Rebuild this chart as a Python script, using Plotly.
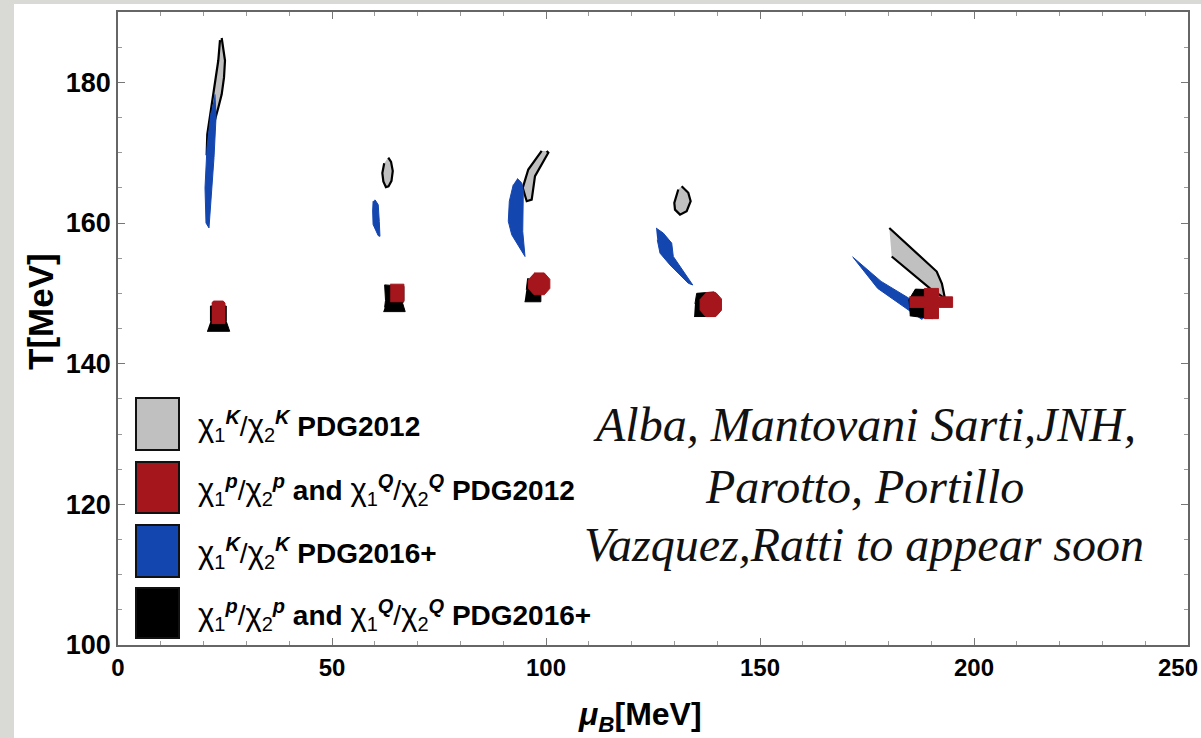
import plotly.graph_objects as go

# ---------------- data (mu_B [MeV], T [MeV]) ----------------
# chi1^K/chi2^K PDG2012 (gray contours), one list per collision energy
gray_mu = [
    [24.23, 24.60, 25.00, 24.77, 24.23, 23.43, 22.27, 21.50, 21.10, 20.72, 20.86, 21.89, 22.66, 23.43, 23.83],
    [63.15, 63.8, 64.2, 63.9, 63.2, 62.6, 62.0, 61.76, 62.2],
    [100.16, 100.54, 97.43, 96.66, 95.49, 94.56, 95.86, 98.99],
    [131.7, 133.25, 133.8, 132.87, 131.31, 130.14, 129.98, 130.91],
    [180.21, 191.29, 192.5, 193.2, 189.7, 180.77],
]
gray_T = [
    [186.3, 184.5, 183.1, 180.7, 178.3, 176.4, 174.0, 172.1, 169.8, 169.8, 172.6, 176.9, 180.2, 183.1, 186.0],
    [169.3, 168.7, 167.4, 166.0, 165.2, 165.1, 165.9, 167.1, 168.5],
    [170.24, 170.0, 166.67, 163.33, 163.1, 165.0, 167.6, 170.24],
    [165.24, 164.29, 163.1, 161.67, 161.19, 161.9, 162.86, 164.76],
    [159.29, 153.1, 151.4, 149.29, 150.71, 155.24],
]

# chi1^K/chi2^K PDG2016+ (blue contours)
blue_mu = [
    [22.66, 22.9, 22.43, 21.73, 21.26, 20.56, 20.33, 20.79, 21.73],
    [60.05, 60.8, 61.05, 61.2, 60.8, 59.6, 59.5, 59.6],
    [93.29, 94.32, 94.70, 94.56, 94.56, 95.09, 93.93, 91.99, 91.19, 91.43, 92.36],
    [125.7, 127.4, 129.37, 129.74, 134.28, 133.25, 128.97, 126.64, 126.0],
    [171.6, 178.3, 184.8, 188.4, 187.8, 182.3, 177.5, 171.9],
]
blue_T = [
    [178.3, 175.0, 169.3, 163.6, 159.3, 160.0, 165.0, 170.7, 175.7],
    [163.3, 162.6, 160.2, 158.1, 158.2, 159.8, 161.7, 163.1],
    [166.33, 165.71, 164.53, 161.67, 158.81, 155.24, 156.43, 158.33, 160.24, 163.1, 165.47],
    [159.29, 158.57, 157.14, 155.24, 151.19, 151.43, 154.04, 155.71, 157.61],
    [155.2, 151.7, 149.3, 146.6, 146.3, 148.6, 150.7, 155.0],
]

# chi1^p/chi2^p and chi1^Q/chi2^Q PDG2016+ (black contours)
black_mu = [
    [20.8, 26.1, 25.3, 25.3, 21.6, 21.6],
    [62.0, 67.1, 66.5, 66.8, 66.8, 62.3, 62.5, 62.3],
    [95.0, 98.8, 98.8, 95.7, 95.4],
    [134.6, 139.3, 139.3, 135.2, 134.8],
    [185.0, 190.3, 190.5, 186.3, 184.7],
]
black_T = [
    [144.6, 144.6, 146.0, 148.2, 148.2, 146.0],
    [147.4, 147.4, 148.6, 149.0, 151.0, 151.2, 149.0, 148.0],
    [148.8, 148.8, 151.5, 152.1, 150.5],
    [146.7, 146.7, 150.2, 150.0, 148.5],
    [146.8, 146.4, 150.5, 150.6, 149.0],
]

# chi1^p/chi2^p and chi1^Q/chi2^Q PDG2012 (red contours)
red_mu = [
    [21.9, 25.0, 25.0, 24.6, 22.3, 21.9],
    [63.6, 66.8, 66.8, 63.6],
    [97.2, 99.6, 100.9, 100.9, 99.6, 97.2, 95.9, 95.9],
    [137.3, 139.7, 141.0, 141.0, 139.7, 137.3, 136.0, 136.0],
    [184.9, 188.4, 188.4, 191.7, 191.7, 195.0, 195.0, 191.7, 191.7, 188.4, 188.4, 184.9],
]
red_T = [
    [145.7, 145.7, 148.6, 148.9, 148.9, 148.6],
    [148.8, 148.8, 151.3, 151.3],
    [152.9, 152.9, 152.0, 150.7, 149.8, 149.8, 150.7, 152.0],
    [150.1, 150.1, 149.2, 147.6, 146.7, 146.7, 147.6, 149.2],
    [148.0, 148.0, 146.4, 146.4, 148.0, 148.0, 149.5, 149.5, 150.7, 150.7, 149.5, 149.5],
]

legend_ratio = [["K"], ["p", "Q"], ["K"], ["p", "Q"]]
legend_sets = ["PDG2012", "PDG2012", "PDG2016+", "PDG2016+"]
credit_lines = ["Alba, Mantovani Sarti,JNH,", "Parotto, Portillo", "Vazquez,Ratti to appear soon"]

x_ticks = [0, 50, 100, 150, 200, 250]
x_ticklabels = ["0", "50", "100", "150", "200", "250"]
y_ticks = [100, 120, 140, 160, 180]

# ---------------- styling ----------------
GRAY = "#c0c0c0"
RED = "#a5161c"
BLUE = "#1446b0"
BLACK = "#000000"

W, H = 1201, 738
L, R, T_, B = 118, 1188, 12, 645   # plot area in pixels
XTICK_FONT = dict(family="Liberation Sans, Arial", size=24, color="black", weight="bold")


def px_x(p):
    return (p - L) / (R - L)


def px_y(p):
    return (B - p) / (B - T_)


def joined(lists):
    out = []
    for i, seg in enumerate(lists):
        if i:
            out.append(None)
        out.extend(seg)
    return out


def chi_ratio(q):
    chi = '<span style="font-size:31px">χ</span>'
    s = '<span style="font-size:20px">%s</span>'
    return (chi + "<sub>" + s % "1" + "</sub><sup>" + s % ("<b><i>" + q + "</i></b>") + "</sup>"
            + '<span style="font-size:28px">/</span>'
            + chi + "<sub>" + s % "2" + "</sub><sup>" + s % ("<b><i>" + q + "</i></b>") + "</sup>")


def legend_text(qs, dataset):
    parts = [chi_ratio(q) for q in qs]
    return " <b>and</b> ".join(parts) + " <b>" + dataset + "</b>"


fig = go.Figure()
for mus, ts, fillc, linec, lw in [
    (gray_mu, gray_T, GRAY, BLACK, 2.2),
    (blue_mu, blue_T, BLUE, BLUE, 1),
    (black_mu, black_T, BLACK, BLACK, 1),
    (red_mu, red_T, RED, RED, 1),
]:
    fig.add_trace(go.Scatter(
        x=joined(mus), y=joined(ts), mode="lines", fill="toself",
        fillcolor=fillc, line=dict(color=linec, width=lw),
        showlegend=False, hoverinfo="skip"))

shapes = []
# slide background strips (left and top)
shapes.append(dict(type="rect", xref="paper", yref="paper",
                   x0=px_x(0), x1=px_x(14), y0=px_y(H), y1=px_y(0),
                   fillcolor="#d9d9d5", line=dict(width=0), layer="below"))
shapes.append(dict(type="rect", xref="paper", yref="paper",
                   x0=px_x(0), x1=px_x(W), y0=px_y(4), y1=px_y(0),
                   fillcolor="#d9d9d5", line=dict(width=0), layer="below"))

annotations = []
box_rows = [(398, 450, GRAY), (462, 513, RED), (525, 577, BLUE), (588, 638, BLACK)]
for (y0, y1, c), qs, ds in zip(box_rows, legend_ratio, legend_sets):
    shapes.append(dict(type="rect", xref="paper", yref="paper",
                       x0=px_x(136), x1=px_x(179), y0=px_y(y1), y1=px_y(y0),
                       fillcolor=c, line=dict(color="#111111", width=2)))
    annotations.append(dict(xref="paper", yref="paper", x=px_x(196), y=px_y((y0 + y1) / 2 + 2),
                            xanchor="left", yanchor="middle", showarrow=False, text=legend_text(qs, ds),
                            font=dict(family="Liberation Sans, Arial", size=28, color="black")))

for yc, line in zip([424, 486, 544], credit_lines):
    annotations.append(dict(xref="paper", yref="paper", x=px_x(864), y=px_y(yc),
                            xanchor="center", yanchor="middle", showarrow=False,
                            text="<i>" + line + "</i>",
                            font=dict(family="Liberation Serif, Times New Roman", size=48, color="#111111")))

# last x tick label, pulled inside the figure edge (as in the original)
annotations.append(dict(xref="x", yref="paper", x=x_ticks[-1], y=px_y(667),
                        xanchor="right", yanchor="middle", xshift=12, showarrow=False,
                        text=x_ticklabels[-1], font=XTICK_FONT))

# axis titles
annotations.append(dict(xref="paper", yref="paper", x=px_x(40), y=px_y(312),
                        xanchor="center", yanchor="middle", showarrow=False, textangle=-90,
                        text="<b>T[MeV]</b>",
                        font=dict(family="Liberation Sans, Arial", size=35, color="black")))
annotations.append(dict(xref="paper", yref="paper", x=px_x(640), y=px_y(716),
                        xanchor="center", yanchor="middle", showarrow=False,
                        text="<b><i>μ<sub>B</sub></i>[MeV]</b>",
                        font=dict(family="Liberation Sans, Arial", size=32, color="black")))

fig.update_layout(
    width=W, height=H, autosize=False,
    margin=dict(l=L, r=W - R, t=T_, b=H - B, pad=0),
    paper_bgcolor="white", plot_bgcolor="white",
    shapes=shapes, annotations=annotations,
    xaxis=dict(range=[0, 250], tickvals=x_ticks, ticktext=x_ticklabels[:-1] + [""],
               ticks="inside", ticklen=7, tickwidth=1,
               tickcolor="#777777", showline=True, linecolor="#666666", linewidth=1.5,
               mirror="ticks", showgrid=False, zeroline=False, ticklabeloverflow="allow",
               automargin=False,
               minor=dict(dtick=10, ticks="inside", ticklen=4, tickcolor="#999999"),
               tickfont=XTICK_FONT),
    yaxis=dict(range=[100, 190], tickvals=y_ticks, ticks="inside", ticklen=7, tickwidth=1,
               tickcolor="#777777", showline=True, linecolor="#666666", linewidth=1.5,
               mirror="ticks", showgrid=False, zeroline=False, ticklabeloverflow="allow",
               automargin=False,
               minor=dict(dtick=5, ticks="inside", ticklen=4, tickcolor="#999999"),
               tickfont=dict(family="Liberation Sans, Arial", size=27, color="black", weight="bold")),
)

fig.write_html("out.html")
